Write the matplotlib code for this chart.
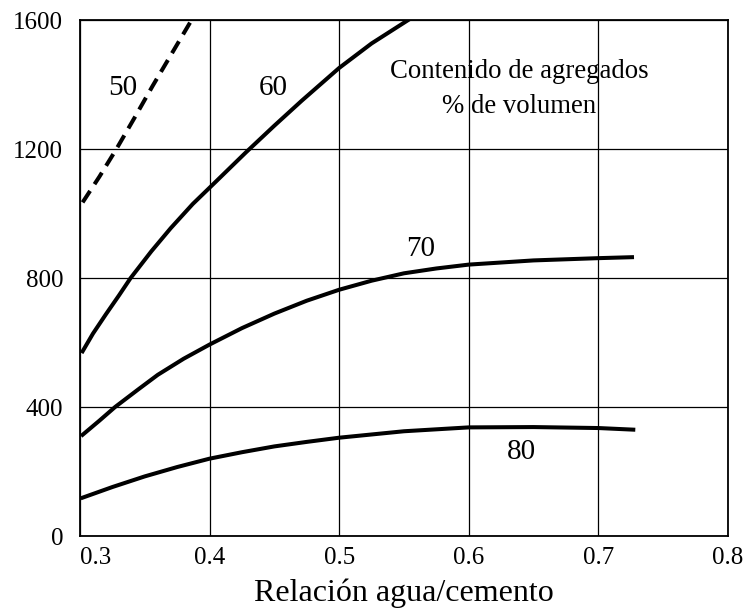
import matplotlib
matplotlib.use('Agg')
from matplotlib import pyplot as plt

# curve data (x = relacion agua/cemento)
x_50 = [0.302, 0.315, 0.328, 0.342, 0.356, 0.371, 0.386]
y_50 = [1035, 1115, 1200, 1297, 1396, 1498, 1600]

x_60 = [0.302, 0.31, 0.32, 0.33, 0.339, 0.355, 0.37, 0.387, 0.405, 0.428, 0.45, 0.471, 0.50, 0.525, 0.553]
y_60 = [573, 628, 688, 746, 800, 883, 955, 1030, 1100, 1190, 1273, 1350, 1452, 1528, 1600]

x_70 = [0.302, 0.315, 0.327, 0.345, 0.36, 0.38, 0.40, 0.425, 0.45, 0.475, 0.50, 0.525, 0.55, 0.575, 0.60, 0.65, 0.70, 0.726]
y_70 = [314, 358, 400, 455, 500, 550, 594, 645, 690, 730, 764, 792, 815, 830, 842, 855, 862, 865]

x_80 = [0.302, 0.325, 0.35, 0.375, 0.40, 0.425, 0.45, 0.475, 0.50, 0.55, 0.60, 0.65, 0.70, 0.727]
y_80 = [119, 152, 185, 214, 240, 260, 278, 292, 305, 325, 337, 338, 335, 330]

x_ticks = [0.3, 0.4, 0.5, 0.6, 0.7, 0.8]
y_ticks = [0, 400, 800, 1200, 1600]

plt.rcParams['font.family'] = ['Liberation Serif', 'DejaVu Serif']

fig = plt.figure(figsize=(7.45, 6.14), dpi=100)
ax = fig.add_axes([0.1074, 0.127, 0.8696, 0.840])

ax.plot(x_50, y_50, color='black', lw=2.9, linestyle=(0, (3.4, 2.0)))
ax.plot(x_60, y_60, color='black', lw=2.9)
ax.plot(x_70, y_70, color='black', lw=2.9)
ax.plot(x_80, y_80, color='black', lw=2.9)

ax.set_xlim(0.3, 0.8)
ax.set_ylim(0, 1600)
ax.set_xticks(x_ticks)
ax.set_yticks(y_ticks)
ax.set_xticklabels(['%.1f' % v for v in x_ticks])
ax.get_xticklabels()[0].set_horizontalalignment('left')
ax.tick_params(length=0, labelsize=18)
ax.tick_params(axis='y', pad=12)
ax.tick_params(axis='x', pad=8)
ax.grid(True, color='black', lw=0.9)
for s in ax.spines.values():
    s.set_linewidth(1.3)

ax.text(0.333, 1391, '50', fontsize=21, ha='center', va='center')
ax.text(0.449, 1391, '60', fontsize=21, ha='center', va='center')
ax.text(0.563, 891, '70', fontsize=21, ha='center', va='center')
ax.text(0.641, 261, '80', fontsize=21, ha='center', va='center')
ax.text(0.639, 1442, 'Contenido de agregados', fontsize=19.3, ha='center', va='center')
ax.text(0.639, 1332, '% de volumen', fontsize=19.3, ha='center', va='center')

ax.set_xlabel('Relación agua/cemento', fontsize=23, labelpad=7)

fig.savefig('out.png', dpi=100)
